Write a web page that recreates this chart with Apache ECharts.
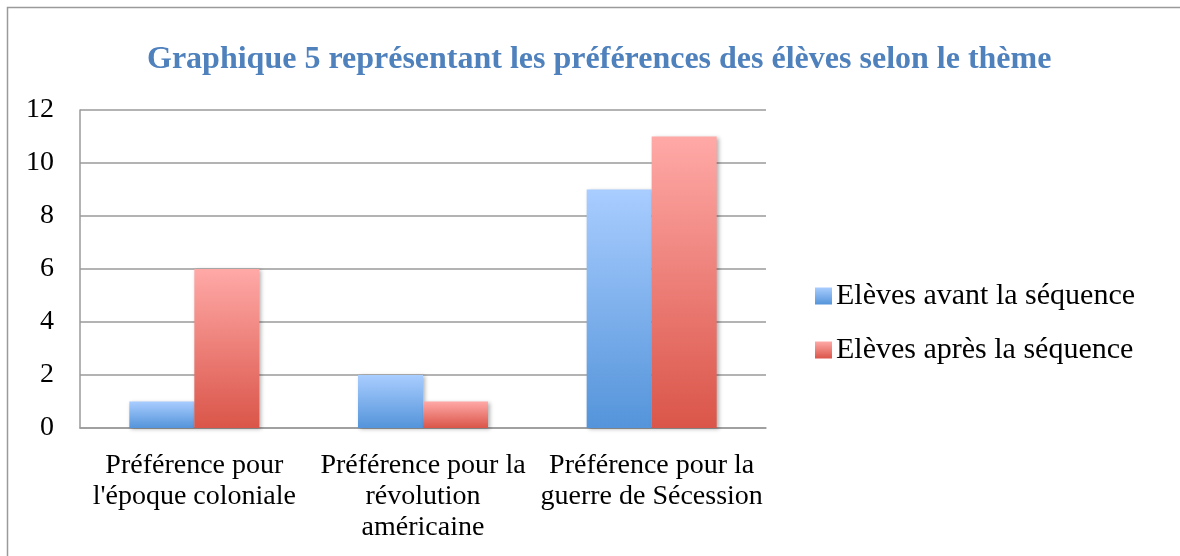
<!DOCTYPE html>
<html>
<head>
<meta charset="utf-8">
<script src="https://cdn.jsdelivr.net/npm/echarts@6/dist/echarts.min.js"></script>
<style>
  html, body { margin: 0; padding: 0; background: #fff; }
  #main { width: 1180px; height: 556px; }
</style>
</head>
<body>
<div id="main"></div>
<script>
var categories = [
  "Préférence pour\nl'époque coloniale",
  "Préférence pour la\nrévolution\naméricaine",
  "Préférence pour la\nguerre de Sécession"
];
var avantValues = [1, 2, 9];
var apresValues = [6, 1, 11];
var yTicks = [0, 2, 4, 6, 8, 10, 12];

var myChart = echarts.init(document.getElementById("main"));
var font = "Liberation Serif";

function grad(top, bottom) {
  return new echarts.graphic.LinearGradient(0, 0, 0, 1, [
    { offset: 0, color: top },
    { offset: 1, color: bottom }
  ]);
}

myChart.setOption({
  animation: false,
  title: {
    text: "Graphique 5 représentant les préférences des élèves selon le thème",
    left: 142,
    top: 39,
    textStyle: { fontFamily: font, fontSize: 32, fontWeight: "bold", color: "#4F81BD" }
  },
  // cadre du graphique
  graphic: [{
    type: "rect",
    shape: { x: 7.5, y: 7.5, width: 1300, height: 700 },
    style: { fill: "none", stroke: "#9a9a9a", lineWidth: 1.5 },
    silent: true
  }],
  legend: {
    orient: "vertical",
    left: 810,
    top: 276,
    itemWidth: 17,
    itemHeight: 17,
    itemGap: 24,
    icon: "rect",
    textStyle: { fontFamily: font, fontSize: 30, color: "#000", padding: [0, 0, 0, -1] }
  },
  grid: { left: 80, right: 414, top: 110, bottom: 128 },
  xAxis: {
    type: "category",
    data: categories,
    axisLine: { lineStyle: { color: "#9a9a9a", width: 1.5 } },
    axisTick: { show: false },
    axisLabel: { fontFamily: font, fontSize: 28, color: "#000", margin: 22, lineHeight: 31, interval: 0 }
  },
  yAxis: {
    type: "value",
    min: 0,
    max: yTicks[yTicks.length - 1],
    interval: 2,
    axisLine: { show: true, lineStyle: { color: "#9a9a9a", width: 1.5 } },
    axisTick: { show: false },
    axisLabel: { fontFamily: font, fontSize: 28, color: "#000", margin: 26 },
    splitLine: { lineStyle: { color: "#9a9a9a", width: 1.5 } }
  },
  series: [
    {
      name: "Elèves avant la séquence",
      type: "bar",
      data: avantValues,
      barWidth: 65,
      barGap: "0%",
      itemStyle: {
        color: grad("#A9CDFF", "#5494DA"),
        shadowBlur: 4, shadowColor: "rgba(0,0,0,0.3)", shadowOffsetX: 2, shadowOffsetY: 1
      }
    },
    {
      name: "Elèves après la séquence",
      type: "bar",
      data: apresValues,
      barWidth: 65,
      itemStyle: {
        color: grad("#FFA9A7", "#DA5549"),
        shadowBlur: 4, shadowColor: "rgba(0,0,0,0.3)", shadowOffsetX: 2, shadowOffsetY: 1
      }
    }
  ]
});
</script>
</body>
</html>
